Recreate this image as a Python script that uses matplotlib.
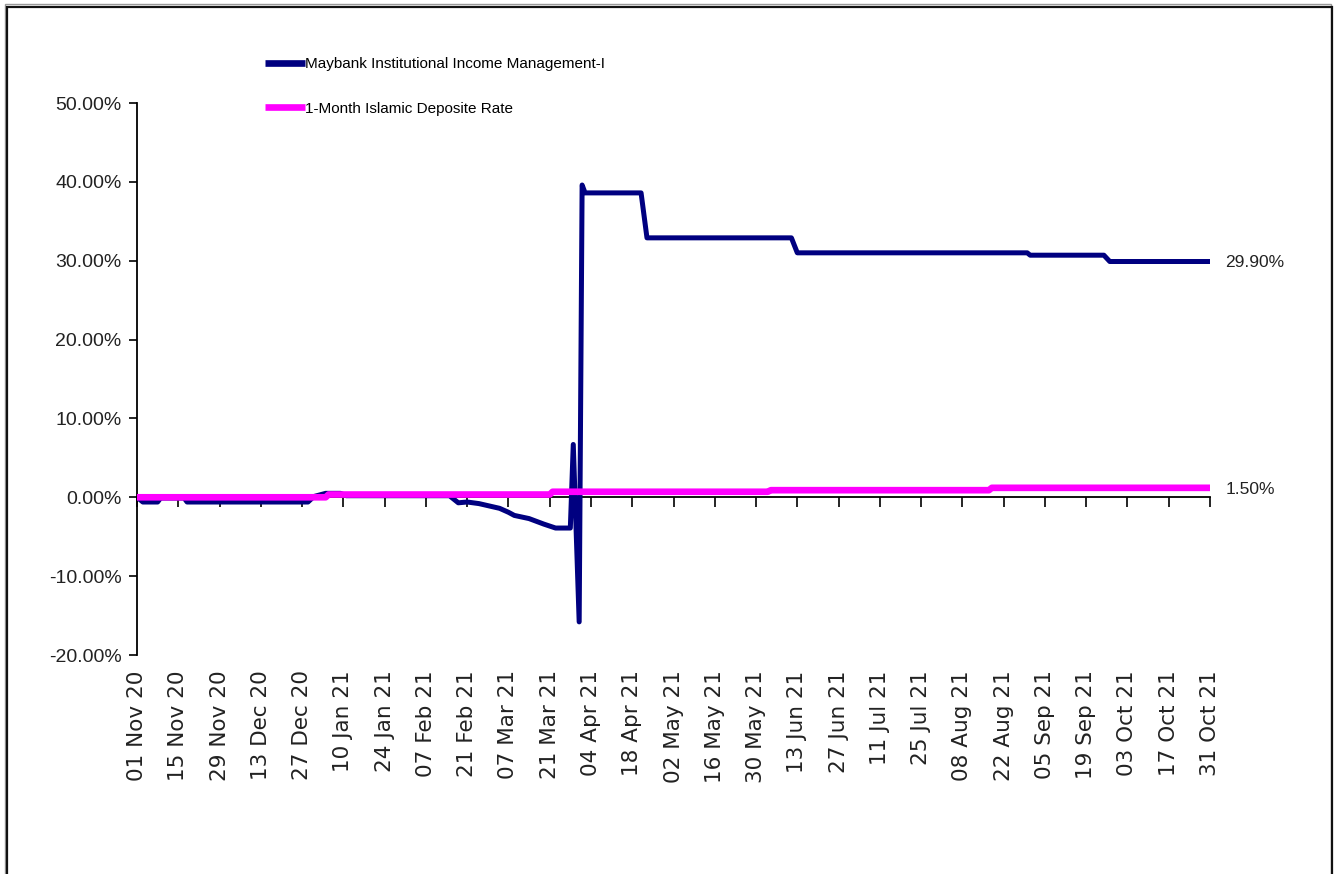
import matplotlib
matplotlib.use("Agg")
import matplotlib.pyplot as plt
from matplotlib.patches import Rectangle
import pandas as pd

# ---- data (percent) ----
fund_dates = ["2020-11-01", "2020-11-03", "2020-11-08", "2020-11-09", "2020-11-17", "2020-11-18",
              "2020-12-29", "2020-12-31", "2021-01-04", "2021-01-09", "2021-01-11", "2021-02-15",
              "2021-02-18", "2021-02-21", "2021-02-25", "2021-03-04", "2021-03-07", "2021-03-09",
              "2021-03-14", "2021-03-19", "2021-03-23", "2021-03-28", "2021-03-29", "2021-03-31",
              "2021-04-01", "2021-04-02", "2021-04-21", "2021-04-23", "2021-06-11", "2021-06-13",
              "2021-08-30", "2021-08-31", "2021-09-25", "2021-09-27", "2021-10-31"]
fund_values = [0.0, -0.6, -0.6, -0.1, -0.1, -0.6,
               -0.6, 0.1, 0.5, 0.5, 0.2, 0.2,
               -0.7, -0.6, -0.8, -1.4, -1.9, -2.3,
               -2.7, -3.4, -3.9, -3.9, 6.7, -15.8,
               39.6, 38.6, 38.6, 32.9, 32.9, 31.0,
               31.0, 30.7, 30.7, 29.9, 29.9]

rate_dates = ["2020-11-01", "2021-01-04", "2021-01-05", "2021-03-21", "2021-03-22",
              "2021-06-03", "2021-06-04", "2021-08-17", "2021-08-18", "2021-10-31"]
rate_values = [0.0, 0.0, 0.35, 0.35, 0.7, 0.7, 0.9, 0.9, 1.2, 1.2]

fund_name = "Maybank Institutional Income Management-I"
rate_name = "1-Month Islamic Deposite Rate"
fund_end_label = "29.90%"
rate_end_label = "1.50%"

y_ticks = [-20, -10, 0, 10, 20, 30, 40, 50]
tick_start = "2020-11-01"
tick_end = "2021-10-31"

# ---- figure ----
W, H = 1334, 874
fig = plt.figure(figsize=(W / 100, H / 100), dpi=100)
fig.patch.set_facecolor("white")
ax = fig.add_axes([137 / W, 1 - 655 / H, (1210 - 137) / W, (655 - 103) / H])

sans = ["Liberation Sans", "DejaVu Sans"]

fd = pd.to_datetime(fund_dates)
rd = pd.to_datetime(rate_dates)
l1, = ax.plot(fd, fund_values, color="#000080", lw=3.6, solid_capstyle="butt", zorder=3,
              label=fund_name)
l2, = ax.plot(rd, rate_values, color="#FF00FF", lw=4.8, solid_capstyle="butt", zorder=4,
              label=rate_name)

ticks = pd.date_range(tick_start, tick_end, freq="14D")
ax.set_xlim(pd.Timestamp(tick_start), pd.Timestamp(tick_end))
ax.set_ylim(-20, 50)
ax.set_yticks(y_ticks)
ax.set_yticklabels([f"{v:.2f}%" for v in y_ticks], fontfamily=sans, fontsize=14, color="#222222")
ax.tick_params(axis="y", direction="out", length=6, width=1.2, pad=5)

ax.spines["top"].set_visible(False)
ax.spines["right"].set_visible(False)
ax.spines["left"].set_linewidth(1.3)
ax.spines["bottom"].set_position(("data", 0))
ax.spines["bottom"].set_linewidth(1.3)
ax.spines["bottom"].set_zorder(2)
ax.set_xticks(ticks)
ax.tick_params(axis="x", direction="out", length=7, width=1.2, labelbottom=False)

sec = ax.secondary_xaxis("bottom")
sec.set_xticks(ticks)
sec.set_xticklabels([t.strftime("%d %b %y") for t in ticks], rotation=90,
                    fontsize=15.5, color="#222222", va="top")
sec.tick_params(length=0, pad=11)
sec.spines["bottom"].set_visible(False)

ax.annotate(fund_end_label, (fd[-1], fund_values[-1]), xytext=(11, -1), textcoords="offset points",
            va="center", ha="left", fontsize=12.5, fontfamily=sans, color="#222222")
ax.annotate(rate_end_label, (rd[-1], rate_values[-1]), xytext=(11, -1), textcoords="offset points",
            va="center", ha="left", fontsize=12.5, fontfamily=sans, color="#222222")

leg = fig.legend(handles=[l1, l2], loc="upper left", bbox_to_anchor=(265 / W, 1 - 57 / H),
                 frameon=False, prop={"family": sans, "size": 11}, handlelength=2.6,
                 handletextpad=0.05, labelspacing=2.0, borderpad=0, borderaxespad=0)
for h in leg.legend_handles:
    h.set_linewidth(4.8)

# figure frame
fig.patches.append(Rectangle((5 / W, -0.1), (1331 - 5) / W, 1.1 - 4 / H, transform=fig.transFigure,
                             fill=False, edgecolor="#999999", lw=1.0))
fig.patches.append(Rectangle((7 / W, -0.1), (1332 - 7) / W, 1.1 - 7 / H, transform=fig.transFigure,
                             fill=False, edgecolor="#111111", lw=1.6))

fig.savefig("out.png", dpi=100)
